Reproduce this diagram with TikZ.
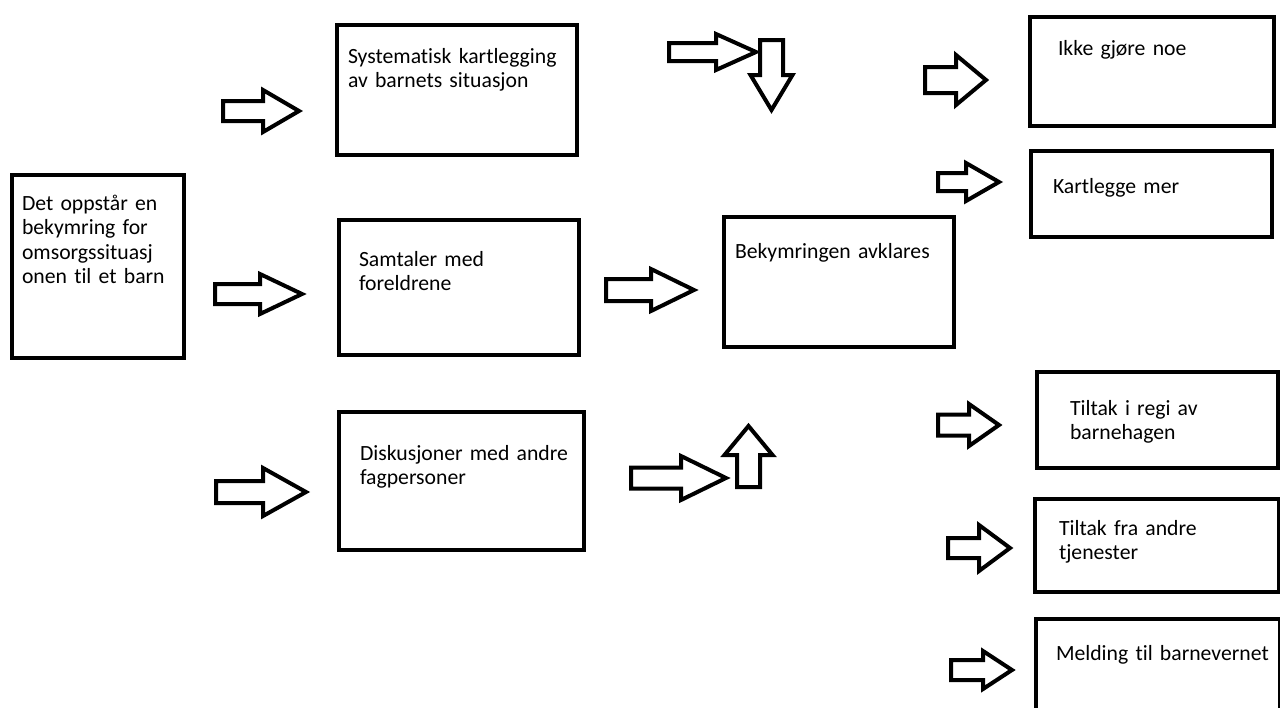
\documentclass[tikz,border=0pt]{standalone}
\usepackage{fontspec}
\setmainfont{Carlito}[Ligatures=NoCommon, WordSpace=0.85]
\tikzset{
  boxst/.style={draw=black, line width=4pt, fill=white, inner sep=0pt, outer sep=0pt, anchor=north west},
  txt/.style={inner sep=0pt, outer sep=0pt, anchor=base west, align=left, text width=320pt,
    font=\fontsize{21.7}{24.5}\selectfont, text=black},
  blockarrow/.style={draw=black, line width=4pt, fill=white, line join=miter, miter limit=10}
}
% right-pointing block arrow: tail x, head base x, tip x, centre y, shaft half, head half
\newcommand{\rblk}[6]{%
  \draw[blockarrow] (#1,#4-#5) -- (#2,#4-#5) -- (#2,#4-#6) -- (#3,#4) -- (#2,#4+#6) -- (#2,#4+#5) -- (#1,#4+#5) -- cycle;}
% vertical block arrow: tail y, head base y, tip y, centre x, shaft half, head half
\newcommand{\vblk}[6]{%
  \draw[blockarrow] (#4-#5,#1) -- (#4-#5,#2) -- (#4-#6,#2) -- (#4,#3) -- (#4+#6,#2) -- (#4+#5,#2) -- (#4+#5,#1) -- cycle;}
\begin{document}
\begin{tikzpicture}[x=1pt,y=-1pt]
\useasboundingbox (0,0) rectangle (1280,707);
\clip (0,0) rectangle (1280,707);
\fill[white] (0,0) rectangle (1280,707);

% boxes
\node[boxst, minimum width=172pt, minimum height=183pt] (b1) at (12,175) {};
\node[boxst, minimum width=240pt, minimum height=130pt] (b2) at (337,25) {};
\node[boxst, minimum width=240pt, minimum height=135pt] (b3) at (339,220) {};
\node[boxst, minimum width=245pt, minimum height=138pt] (b4) at (339,412) {};
\node[boxst, minimum width=230pt, minimum height=130pt] (b5) at (724,217) {};
\node[boxst, minimum width=244pt, minimum height=109pt] (b6) at (1030,17) {};
\node[boxst, minimum width=241pt, minimum height=86pt] (b7) at (1031,151) {};
\node[boxst, minimum width=241pt, minimum height=96pt] (b8) at (1037,372) {};
\node[boxst, minimum width=244pt, minimum height=93pt] (b9) at (1035,499) {};
\node[boxst, minimum width=244pt, minimum height=120pt] (b10) at (1036,619) {};

% texts
\node[txt] (t1) at (22,210) {Det oppstår en\\bekymring for\\omsorgssituasj\\onen til et barn};
\node[txt] (t2) at (348,63) {Systematisk kartlegging\\av barnets situasjon};
\node[txt] (t3) at (359,266) {Samtaler med\\foreldrene};
\node[txt] (t4) at (360,460) {Diskusjoner med andre\\fagpersoner};
\node[txt] (t5) at (735,258) {Bekymringen avklares};
\node[txt] (t6) at (1058,55) {Ikke gjøre noe};
\node[txt] (t7) at (1053,193) {Kartlegge mer};
\node[txt] (t8) at (1070,415) {Tiltak i regi av\\barnehagen};
\node[txt] (t9) at (1059,535) {Tiltak fra andre\\tjenester};
\node[txt] (t10) at (1056,660) {Melding til barnevernet};

% block arrows, left column
\rblk{223}{263}{299}{111}{10}{21}
\rblk{215}{260}{302}{294}{10}{20}
\rblk{216}{263}{306}{492}{11}{24}
% middle
\rblk{606}{651}{694}{290}{11}{21}
\rblk{669}{716}{756}{52}{9}{18}
\vblk{40}{75}{110}{771.5}{11.5}{21}
\rblk{631}{681}{726}{478}{10.5}{22}
\vblk{487}{455}{426}{748.5}{11.5}{24}
% right column
\rblk{925}{956}{986}{80}{13}{25}
\rblk{938}{966}{999}{182}{9}{19}
\rblk{938}{969}{999}{425}{10.5}{21}
\rblk{948}{979}{1010}{548}{10}{23}
\rblk{951}{983}{1012}{670}{10}{19}
\end{tikzpicture}
\end{document}
